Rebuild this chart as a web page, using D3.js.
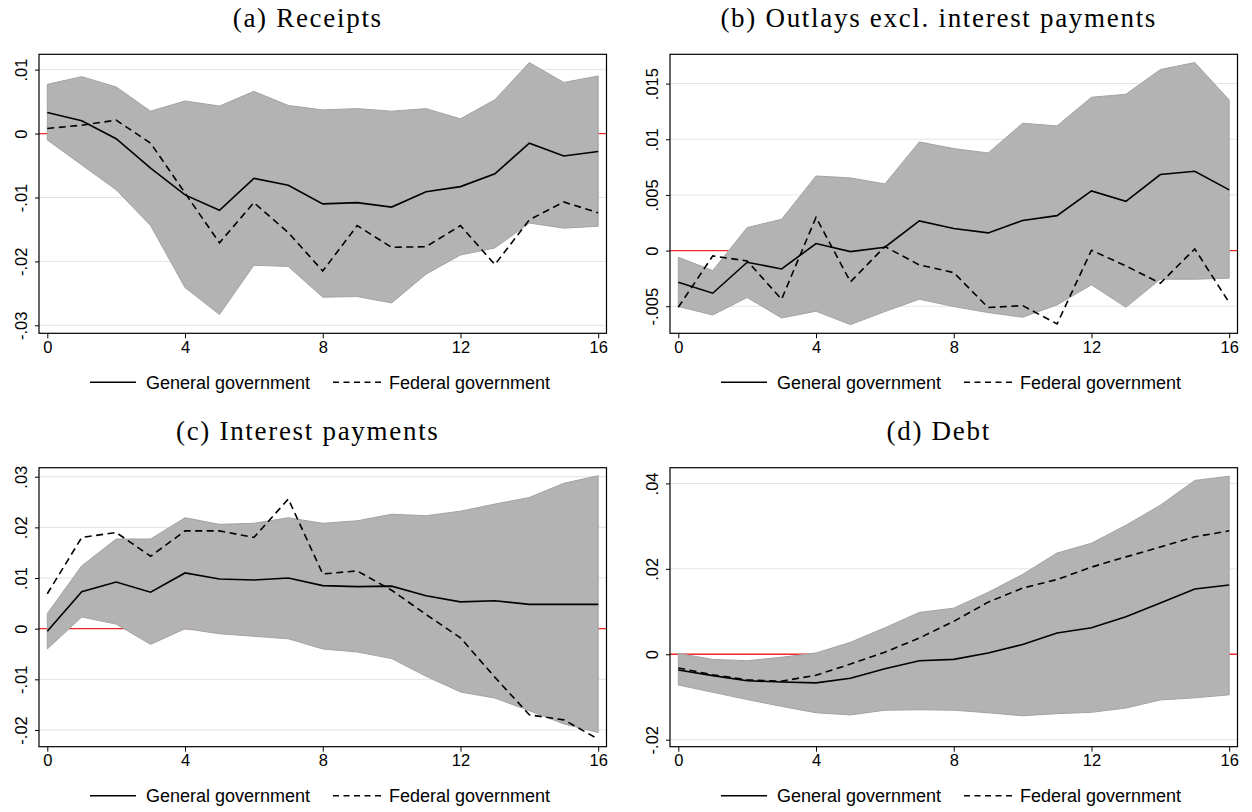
<!DOCTYPE html>
<html>
<head>
<meta charset="utf-8">
<script src="https://cdn.jsdelivr.net/npm/d3@7"></script>
<style>
  html, body { margin: 0; padding: 0; background: #fff; }
  svg { display: block; }
</style>
</head>
<body>
<svg id="chart" width="1252" height="812"></svg>
<script>
// Impulse responses over 16 quarters: general vs federal government, with confidence band.
const horizons = [0, 1, 2, 3, 4, 5, 6, 7, 8, 9, 10, 11, 12, 13, 14, 15, 16];
const xTicks = [0, 4, 8, 12, 16];
const legendLabels = ["General government", "Federal government"];

// (a) Receipts
const receiptsGeneral = [0.0033, 0.0020, -0.0008, -0.0054, -0.0096, -0.0120, -0.0070, -0.0081, -0.0110, -0.0108, -0.0115, -0.0091, -0.0083, -0.0063, -0.0015, -0.0035, -0.0028];
const receiptsFederal = [0.0008, 0.0013, 0.0021, -0.0015, -0.0093, -0.0171, -0.0108, -0.0155, -0.0215, -0.0144, -0.0178, -0.0177, -0.0144, -0.0205, -0.0135, -0.0107, -0.0124];
const receiptsUpper = [0.0077, 0.0089, 0.0073, 0.0035, 0.0051, 0.0043, 0.0066, 0.0044, 0.0037, 0.0039, 0.0035, 0.0039, 0.0023, 0.0053, 0.0111, 0.0080, 0.0090];
const receiptsLower = [-0.0010, -0.0049, -0.0088, -0.0144, -0.0241, -0.0283, -0.0206, -0.0208, -0.0256, -0.0255, -0.0265, -0.0220, -0.0190, -0.0179, -0.0140, -0.0148, -0.0145];
const receiptsTicks = [0.01, 0, -0.01, -0.02, -0.03];
const receiptsTickLabels = [".01", "0", "-.01", "-.02", "-.03"];

// (b) Outlays excl. interest payments
const outlaysGeneral = [-0.00284, -0.00383, -0.00105, -0.00165, 0.00063, -0.00009, 0.00030, 0.00266, 0.00198, 0.00159, 0.00270, 0.00314, 0.00536, 0.00443, 0.00683, 0.00713, 0.00545];
const outlaysFederal = [-0.00509, -0.00048, -0.00093, -0.00437, 0.00299, -0.00281, 0.00036, -0.00129, -0.00198, -0.00512, -0.00494, -0.00659, 0.00003, -0.00138, -0.00293, 0.00015, -0.00467];
const outlaysUpper = [-0.00060, -0.00180, 0.00207, 0.00281, 0.00670, 0.00653, 0.00599, 0.00976, 0.00916, 0.00877, 0.01144, 0.01120, 0.01377, 0.01404, 0.01626, 0.01689, 0.01353];
const outlaysLower = [-0.00503, -0.00578, -0.00422, -0.00605, -0.00545, -0.00665, -0.00548, -0.00437, -0.00503, -0.00557, -0.00599, -0.00488, -0.00308, -0.00509, -0.00257, -0.00257, -0.00248];
const outlaysTicks = [0.015, 0.01, 0.005, 0, -0.005];
const outlaysTickLabels = [".015", ".01", ".005", "0", "-.005"];

// (c) Interest payments
const interestGeneral = [-0.0005, 0.0073, 0.0092, 0.0072, 0.0110, 0.0098, 0.0096, 0.0100, 0.0085, 0.0083, 0.0084, 0.0065, 0.0053, 0.0055, 0.0048, 0.0048, 0.0048];
const interestFederal = [0.0069, 0.0180, 0.0190, 0.0143, 0.0193, 0.0193, 0.0180, 0.0256, 0.0108, 0.0114, 0.0076, 0.0028, -0.0018, -0.0096, -0.0170, -0.0180, -0.0218];
const interestUpper = [0.0030, 0.0124, 0.0177, 0.0177, 0.0219, 0.0206, 0.0208, 0.0219, 0.0208, 0.0213, 0.0226, 0.0223, 0.0232, 0.0246, 0.0259, 0.0287, 0.0302];
const interestLower = [-0.0040, 0.0023, 0.0009, -0.0031, 0.0000, -0.0010, -0.0015, -0.0020, -0.0040, -0.0046, -0.0059, -0.0094, -0.0125, -0.0137, -0.0162, -0.0188, -0.0205];
const interestTicks = [0.03, 0.02, 0.01, 0, -0.01, -0.02];
const interestTickLabels = [".03", ".02", ".01", "0", "-.01", "-.02"];

// (d) Debt
const debtGeneral = [-0.0037, -0.0050, -0.0062, -0.0065, -0.0067, -0.0056, -0.0034, -0.0015, -0.0012, 0.0003, 0.0023, 0.0050, 0.0062, 0.0088, 0.0120, 0.0153, 0.0162];
const debtFederal = [-0.0032, -0.0048, -0.0060, -0.0063, -0.0049, -0.0023, 0.0005, 0.0038, 0.0077, 0.0122, 0.0155, 0.0175, 0.0204, 0.0228, 0.0251, 0.0275, 0.0289];
const debtUpper = [0.0002, -0.0012, -0.0015, -0.0007, 0.0003, 0.0028, 0.0062, 0.0098, 0.0108, 0.0145, 0.0187, 0.0237, 0.0260, 0.0302, 0.0349, 0.0407, 0.0417];
const debtLower = [-0.0072, -0.0089, -0.0106, -0.0122, -0.0137, -0.0142, -0.0131, -0.0130, -0.0131, -0.0137, -0.0144, -0.0139, -0.0136, -0.0126, -0.0107, -0.0102, -0.0095];
const debtTicks = [0.04, 0.02, 0, -0.02];
const debtTickLabels = [".04", ".02", "0", "-.02"];

const panels = [
  { title: "(a) Receipts", general: receiptsGeneral, federal: receiptsFederal, upper: receiptsUpper, lower: receiptsLower,
    ticks: receiptsTicks, tickLabels: receiptsTickLabels, domain: [-0.03125, 0.0124], left: 39, top: 54.3 },
  { title: "(b) Outlays excl. interest payments", general: outlaysGeneral, federal: outlaysFederal, upper: outlaysUpper, lower: outlaysLower,
    ticks: outlaysTicks, tickLabels: outlaysTickLabels, domain: [-0.00743, 0.01763], left: 670, top: 54.3 },
  { title: "(c) Interest payments", general: interestGeneral, federal: interestFederal, upper: interestUpper, lower: interestLower,
    ticks: interestTicks, tickLabels: interestTickLabels, domain: [-0.0233, 0.03178], left: 39, top: 467.7 },
  { title: "(d) Debt", general: debtGeneral, federal: debtFederal, upper: debtUpper, lower: debtLower,
    ticks: debtTicks, tickLabels: debtTickLabels, domain: [-0.02164, 0.04368], left: 670, top: 467.7 }
];

const frameW = 567.5, frameH = 279, padX = 8.3;
const svg = d3.select("#chart");
const sansFont = "'Liberation Sans', Arial, Helvetica, sans-serif";
const serifFont = "'Liberation Serif', 'Times New Roman', serif";

panels.forEach(p => {
  const g = svg.append("g");
  const x0 = p.left, y0 = p.top;
  const x = d3.scaleLinear().domain([0, 16]).range([x0 + padX, x0 + frameW - padX]);
  const y = d3.scaleLinear().domain(p.domain).range([y0 + frameH, y0]);

  // title
  g.append("text")
    .attr("x", x0 + frameW / 2 - 15)
    .attr("y", y0 - 27.5)
    .attr("text-anchor", "middle")
    .attr("font-family", serifFont)
    .attr("font-size", 27)
    .attr("letter-spacing", 1.7)
    .attr("fill", "#000")
    .text(p.title);

  // horizontal grid
  g.append("g").selectAll("line").data(p.ticks).join("line")
    .attr("x1", x0).attr("x2", x0 + frameW)
    .attr("y1", d => y(d)).attr("y2", d => y(d))
    .attr("stroke", "#e3e3e3").attr("stroke-width", 1);

  // zero reference
  g.append("line")
    .attr("x1", x0).attr("x2", x0 + frameW)
    .attr("y1", y(0)).attr("y2", y(0))
    .attr("stroke", "#f02828").attr("stroke-width", 1.3);

  // confidence band
  const area = d3.area()
    .x((d, i) => x(horizons[i]))
    .y0((d, i) => y(p.lower[i]))
    .y1((d, i) => y(p.upper[i]));
  g.append("path").datum(horizons)
    .attr("d", area)
    .attr("fill", "#b3b3b3")
    .attr("stroke", "#a3a3a3")
    .attr("stroke-width", 1);

  const line = vals => d3.line().x((d, i) => x(horizons[i])).y((d, i) => y(vals[i]))(horizons);

  g.append("path").attr("d", line(p.general))
    .attr("fill", "none").attr("stroke", "#000").attr("stroke-width", 1.6);
  g.append("path").attr("d", line(p.federal))
    .attr("fill", "none").attr("stroke", "#000").attr("stroke-width", 1.6)
    .attr("stroke-dasharray", "7,4.5");

  // plot frame
  g.append("rect")
    .attr("x", x0).attr("y", y0).attr("width", frameW).attr("height", frameH)
    .attr("fill", "none").attr("stroke", "#000").attr("stroke-width", 1.2);

  // x axis
  const xAxis = d3.axisBottom(x).tickValues(xTicks).tickSize(5).tickPadding(3).tickFormat(d3.format("d"));
  const xg = g.append("g").attr("transform", `translate(0,${y0 + frameH})`).call(xAxis);
  xg.select(".domain").remove();
  xg.selectAll(".tick line").attr("stroke", "#000").attr("stroke-width", 1);
  xg.selectAll(".tick text").attr("font-family", sansFont).attr("font-size", 16.5).attr("fill", "#000");

  // y axis with rotated labels
  const yAxis = d3.axisLeft(y).tickValues(p.ticks).tickSize(4).tickFormat((d, i) => p.tickLabels[i]);
  const yg = g.append("g").attr("transform", `translate(${x0},0)`).call(yAxis);
  yg.select(".domain").remove();
  yg.selectAll(".tick line").attr("stroke", "#000").attr("stroke-width", 1);
  yg.selectAll(".tick text")
    .attr("x", null).attr("dy", null)
    .attr("transform", "translate(-12.5,0) rotate(-90)")
    .attr("text-anchor", "middle")
    .attr("font-family", sansFont).attr("font-size", 16.5).attr("fill", "#000");

  // legend
  const ly = y0 + frameH + 49;
  const lg = g.append("g").attr("transform", `translate(${x0 + 51},${ly})`);
  lg.append("line").attr("x1", 0).attr("x2", 46).attr("y1", 0).attr("y2", 0)
    .attr("stroke", "#000").attr("stroke-width", 1.6);
  lg.append("text").attr("x", 56).attr("y", 6.5)
    .attr("font-family", sansFont).attr("font-size", 18).attr("fill", "#000")
    .text(legendLabels[0]);
  lg.append("line").attr("x1", 243).attr("x2", 292).attr("y1", 0).attr("y2", 0)
    .attr("stroke", "#000").attr("stroke-width", 1.6).attr("stroke-dasharray", "6,4.5");
  lg.append("text").attr("x", 299).attr("y", 6.5)
    .attr("font-family", sansFont).attr("font-size", 18).attr("fill", "#000")
    .text(legendLabels[1]);
});
</script>
</body>
</html>
